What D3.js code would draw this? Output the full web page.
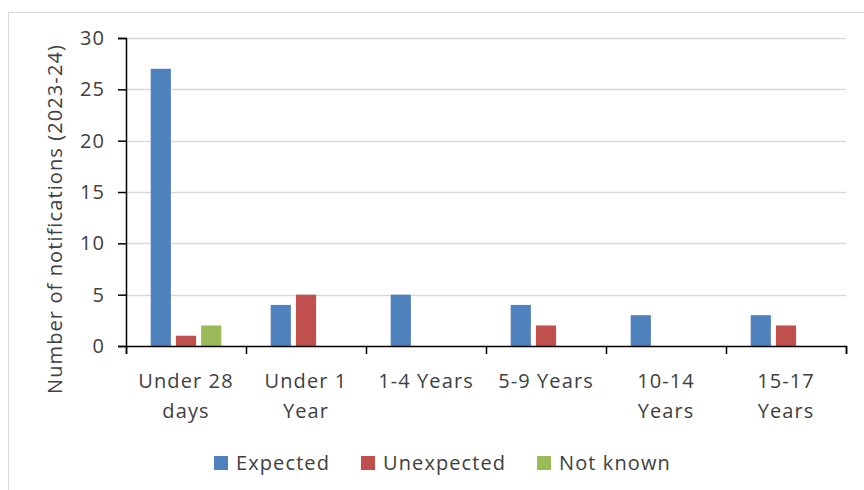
<!DOCTYPE html>
<html>
<head>
<meta charset="utf-8">
<script src="https://cdn.jsdelivr.net/npm/d3@7"></script>
<style>
  body { margin: 0; background: #ffffff; }
  svg { display: block; }
</style>
</head>
<body>
<div id="chart"></div>
<script>
// chart data
const categories = ['Under 28 days', 'Under 1 Year', '1-4 Years', '5-9 Years', '10-14 Years', '15-17 Years'];
const categoryLines = [['Under 28', 'days'], ['Under 1', 'Year'], ['1-4 Years'], ['5-9 Years'], ['10-14', 'Years'], ['15-17', 'Years']];
const seriesNames = ['Expected', 'Unexpected', 'Not known'];
const expectedValues = [27, 4, 5, 4, 3, 3];
const unexpectedValues = [1, 5, 0, 2, 0, 2];
const notKnownValues = [2, 0, 0, 0, 0, 0];
const yTicks = [0, 5, 10, 15, 20, 25, 30];
const seriesColors = ['#4F81BD', '#C0504D', '#9BBB59'];

function main() {
    const svgWidth = 864;
    const svgHeight = 490;
    const margin = {top: 38, right: 18, bottom: 144, left: 126};
    const width = svgWidth - margin.left - margin.right;
    const height = svgHeight - margin.top - margin.bottom;
    const fontFamily = '"Open Sans", "DejaVu Sans", sans-serif';
    const textColor = '#404040';
    const spacing = '1.1px';

    const svg = d3.select('#chart').append('svg')
        .attr('width', svgWidth)
        .attr('height', svgHeight);

    // outer frame
    svg.append('rect')
        .attr('x', 8.5)
        .attr('y', 12.5)
        .attr('width', svgWidth)
        .attr('height', svgHeight)
        .attr('fill', 'none')
        .attr('stroke', '#d9d9d9')
        .attr('stroke-width', 1);

    const g = svg.append('g')
        .attr('transform', `translate(${margin.left},${margin.top})`);

    const x0 = d3.scaleBand()
        .domain(categories)
        .range([0, width])
        .paddingInner(0)
        .paddingOuter(0);

    const x1 = d3.scaleBand()
        .domain(seriesNames)
        .range([0, x0.bandwidth()])
        .paddingInner(0.2)
        .paddingOuter(0.98);

    const y = d3.scaleLinear()
        .domain([0, 30])
        .range([height, 0]);

    // gridlines
    g.append('g')
        .selectAll('line')
        .data(yTicks.filter(d => d > 0))
        .enter()
        .append('line')
        .attr('x1', 0)
        .attr('x2', width)
        .attr('y1', d => Math.round(y(d)) + 0.5)
        .attr('y2', d => Math.round(y(d)) + 0.5)
        .attr('stroke', '#d9d9d9')
        .attr('stroke-width', 1.5);

    const table = categories.map((c, i) => ({
        category: c,
        values: [expectedValues[i], unexpectedValues[i], notKnownValues[i]]
    }));

    // bars
    g.append('g')
        .selectAll('g')
        .data(table)
        .enter()
        .append('g')
        .attr('transform', d => `translate(${x0(d.category)},0)`)
        .selectAll('rect')
        .data(d => d.values.map((v, j) => ({series: seriesNames[j], value: v, color: seriesColors[j]})))
        .enter()
        .filter(d => d.value > 0)
        .append('rect')
        .attr('x', d => x1(d.series))
        .attr('width', x1.bandwidth())
        .attr('y', d => y(d.value))
        .attr('height', d => y(0) - y(d.value))
        .attr('fill', d => d.color);

    // y axis
    const yAxis = g.append('g')
        .call(d3.axisLeft(y).tickValues(yTicks).tickSize(8).tickPadding(13));
    yAxis.selectAll('.domain').attr('stroke', '#000000').attr('stroke-width', 1.5);
    yAxis.selectAll('.tick line').attr('stroke', '#000000').attr('stroke-width', 1.5);
    yAxis.selectAll('text')
        .style('font-family', fontFamily)
        .style('font-size', '20px')
        .style('letter-spacing', spacing)
        .attr('fill', textColor);

    // x axis
    const xEdges = d3.scaleLinear().domain([0, categories.length]).range([0, width]);
    const xAxis = g.append('g')
        .attr('transform', `translate(0,${height})`)
        .call(d3.axisBottom(xEdges).ticks(categories.length).tickSize(8).tickFormat(''));
    xAxis.selectAll('.domain').attr('stroke', '#000000').attr('stroke-width', 1.5);
    xAxis.selectAll('.tick line').attr('stroke', '#000000').attr('stroke-width', 1.5);

    // category labels
    const labels = g.append('g')
        .selectAll('text')
        .data(categories)
        .enter()
        .append('text')
        .attr('x', d => x0(d) + x0.bandwidth() / 2)
        .attr('y', height + 42)
        .attr('text-anchor', 'middle')
        .attr('fill', textColor)
        .style('font-family', fontFamily)
        .style('font-size', '20px')
        .style('letter-spacing', spacing);
    labels.selectAll('tspan')
        .data((d, i) => categoryLines[i])
        .enter()
        .append('tspan')
        .attr('x', function () { return d3.select(this.parentNode).attr('x'); })
        .attr('dy', (d, i) => i === 0 ? 0 : 30)
        .text(d => d);

    // y axis title
    svg.append('text')
        .attr('transform', 'rotate(-90)')
        .attr('x', -219)
        .attr('y', 62)
        .attr('text-anchor', 'middle')
        .attr('fill', textColor)
        .style('font-family', fontFamily)
        .style('font-size', '20px')
        .style('letter-spacing', spacing)
        .text('Number of notifications (2023-24)');

    // legend
    const legendX = [214, 361, 537];
    const legend = svg.append('g')
        .selectAll('g')
        .data(seriesNames)
        .enter()
        .append('g')
        .attr('transform', (d, i) => `translate(${legendX[i]},456)`);
    legend.append('rect')
        .attr('width', 14)
        .attr('height', 14)
        .attr('fill', (d, i) => seriesColors[i]);
    legend.append('text')
        .attr('x', 22)
        .attr('y', 14)
        .attr('fill', textColor)
        .style('font-family', fontFamily)
        .style('font-size', '20px')
        .style('letter-spacing', spacing)
        .text(d => d);
}

main();
</script>
</body>
</html>
